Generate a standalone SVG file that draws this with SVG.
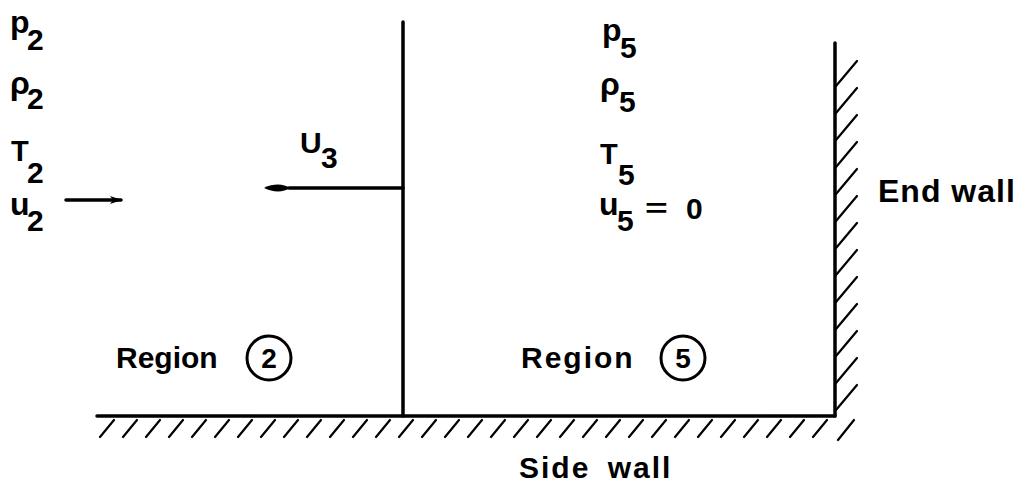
<svg xmlns="http://www.w3.org/2000/svg" width="1027" height="488" viewBox="0 0 1027 488">
<style>
.t{font-family:"Liberation Sans",Arial,sans-serif;font-size:26px;font-weight:bold;fill:#000}
.d{font-size:30px}
.l{font-size:32px}
.cap{font-size:29px}
.big{font-size:30px}
.w{stroke:#000;stroke-width:3.5;fill:none;stroke-linecap:round}
.h{stroke:#000;stroke-width:2.2;fill:none;stroke-linecap:round}
</style>
<defs>
<marker id="ar" viewBox="0 0 12 10" refX="11" refY="5" markerWidth="12" markerHeight="10" markerUnits="userSpaceOnUse" orient="auto">
<path d="M0,1 L12,5 L0,9 L3,5 Z" fill="#000"/>
</marker>
<marker id="al" viewBox="0 0 26 10" refX="1" refY="5" markerWidth="26" markerHeight="10" markerUnits="userSpaceOnUse" orient="auto-start-reverse">
<path d="M26,5 C16,0 6,1 0,5 C6,9 16,10 26,5 Z" fill="#000"/>
</marker>
</defs>
<g id="walls">
<line class="w" x1="97" y1="416" x2="835" y2="416" stroke-width="4"/>
<line class="w" x1="835" y1="43" x2="835" y2="416"/>
<g id="side-hatch">
<path class="h" d="M100,437l14,-17 M123,437l14,-17 M146,437l14,-17 M169,437l14,-17 M192,437l14,-17 M215,437l14,-17 M238,437l14,-17 M261,437l14,-17 M284,437l14,-17 M307,437l14,-17 M330,437l14,-17 M353,437l14,-17 M376,437l14,-17 M399,437l14,-17 M422,437l14,-17 M445,437l14,-17 M468,437l14,-17 M491,437l14,-17 M514,437l14,-17 M537,437l14,-17 M560,437l14,-17 M583,437l14,-17 M606,437l14,-17 M629,437l14,-17 M652,437l14,-17 M675,437l14,-17 M698,437l14,-17 M721,437l14,-17 M744,437l14,-17 M767,437l14,-17 M790,437l14,-17 M813,437l14,-17 M838,440l16,-20"/>
</g>
<g id="end-hatch">
<path class="h" d="M836,86l21,-25 M836,113l21,-25 M836,140l21,-25 M836,167l21,-25 M836,194l21,-25 M836,221l21,-25 M836,248l21,-25 M836,275l21,-25 M836,302l21,-25 M836,329l21,-25 M836,356l21,-25 M836,383l21,-25 M836,410l21,-25"/>
</g>
</g>
<g id="shock">
<line class="w" x1="403" y1="22" x2="403" y2="416" stroke-width="3"/>
</g>
<g id="connectors">
<line class="w" x1="403" y1="188" x2="289" y2="188" stroke-width="3" marker-end="url(#al)"/>
<line class="w" x1="66" y1="200" x2="121" y2="200" stroke-width="2.5" marker-end="url(#ar)"/>
</g>
<g id="region2-props">
<text class="t l" x="10" y="33">p</text><text class="t d" x="27" y="50">2</text>
<text class="t l" x="10" y="94">ρ</text><text class="t d" x="27" y="109">2</text>
<text class="t cap" x="11" y="161">T</text><text class="t d" x="27" y="183">2</text>
<text class="t l" x="10" y="215">u</text><text class="t d" x="27" y="231">2</text>
</g>
<g id="u3-label">
<text class="t d" x="300" y="153">U</text><text class="t d" x="321" y="168">3</text>
</g>
<g id="region5-props">
<text class="t l" x="602" y="41">p</text><text class="t d" x="620" y="58">5</text>
<text class="t l" x="600" y="95">ρ</text><text class="t d" x="619" y="112">5</text>
<text class="t cap" x="600" y="164">T</text><text class="t d" x="618" y="185">5</text>
<text class="t l" x="599" y="215">u</text><text class="t d" x="617" y="231">5</text>
<text class="t" x="645" y="217" transform="translate(645 0) scale(1.5 1) translate(-645 0)">=</text>
<text class="t d" x="686" y="219">0</text>
</g>
<g id="region2">
<text class="t big" x="116" y="368">Region</text>
<circle cx="269" cy="358" r="22" fill="none" stroke="#000" stroke-width="3"/>
<text class="t" x="269" y="368" style="font-size:28px" text-anchor="middle">2</text>
</g>
<g id="region5">
<text class="t big" x="521" y="368" letter-spacing="2">Region</text>
<circle cx="683" cy="358" r="22" fill="none" stroke="#000" stroke-width="3"/>
<text class="t" x="683" y="368" style="font-size:28px" text-anchor="middle">5</text>
</g>
<g id="labels">
<text class="t" x="878" y="202" style="font-size:32px" letter-spacing="1">End wall</text>
<text class="t big" x="519" y="478" letter-spacing="2" word-spacing="7">Side wall</text>
</g>
</svg>
